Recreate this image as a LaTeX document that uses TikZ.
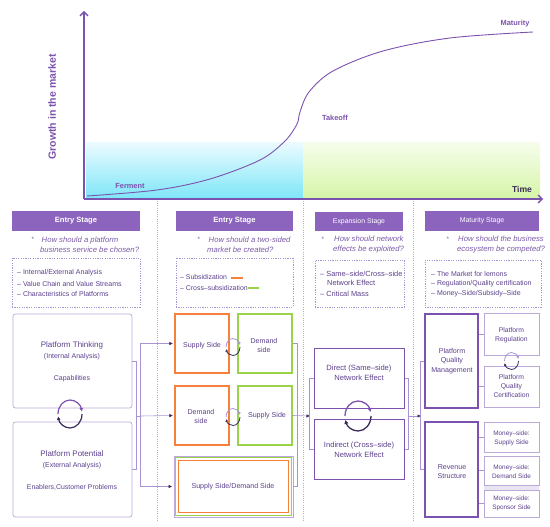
\documentclass[tikz,border=0pt]{standalone}
\usepackage{fontspec}
\setmainfont{Liberation Sans}
\usetikzlibrary{arrows.meta}
\definecolor{pur}{HTML}{7B52AE}
\definecolor{hdr}{HTML}{8C64BD}
\definecolor{txt}{HTML}{5B3F8C}
\definecolor{qtx}{HTML}{7A5AA8}
\definecolor{lpur}{HTML}{A994D3}
\definecolor{vlpur}{HTML}{BBA9DC}
\definecolor{org}{HTML}{F5813A}
\definecolor{grn}{HTML}{9BD44A}
\definecolor{dk}{HTML}{3A2A55}
\definecolor{cyanlo}{HTML}{7FE6F8}
\definecolor{cyanhi}{HTML}{EAFBFF}
\definecolor{grnlo}{HTML}{D6F5A8}
\definecolor{grnhi}{HTML}{F6FDEB}
\begin{document}
\begin{tikzpicture}[x=1pt,y=1pt,yscale=-1,
  hdrbox/.style={fill=hdr,draw=none,minimum height=20,inner sep=0,text=white,font=\bfseries\fontsize{7.6pt}{8pt}\selectfont},
  hdrsm/.style={hdrbox,font=\fontsize{6.9pt}{7pt}\selectfont},
  qtext/.style={text=qtx,font=\itshape\fontsize{7.7pt}{10pt}\selectfont,align=left,inner sep=0,anchor=west},
  qbul/.style={text=qtx,font=\fontsize{6.5pt}{7pt}\selectfont,inner sep=0},
  dbox/.style={draw=lpur,dash pattern=on 1.2pt off 1.2pt,line width=0.6pt,inner sep=0},
  ltext/.style={text=txt,font=\fontsize{7pt}{8pt}\selectfont,inner sep=0,anchor=west},
  btext/.style={text=txt,font=\fontsize{7.1pt}{8pt}\selectfont,inner sep=0},
  rbox/.style={draw=vlpur,line width=0.7pt,rounded corners=2.5pt,inner sep=0},
  obox/.style={draw=org,line width=1.2pt,inner sep=0,minimum width=54,minimum height=59},
  gbox/.style={draw=grn,line width=1.2pt,inner sep=0,minimum width=54,minimum height=59},
  pbox/.style={draw=pur,line width=1pt,inner sep=0},
  sbox/.style={draw=vlpur,line width=0.8pt,inner sep=0,minimum width=55},
  conn/.style={draw=lpur,line width=0.6pt},
  arr/.style={conn,-{Latex[length=3.5pt,width=3.5pt,color=dk]}},
  sep/.style={draw=vlpur,line width=0.8pt,dash pattern=on 0.8pt off 1.4pt},
  clab/.style={text=pur,font=\bfseries\fontsize{7.4pt}{8pt}\selectfont,inner sep=0}
]
\useasboundingbox (0,0) rectangle (550,527);
% ---------- chart ----------
\shade[top color=cyanhi,bottom color=cyanlo] (86,143) rectangle (303,198);
\shade[top color=grnhi,bottom color=grnlo] (303,143) rectangle (540,198);
\coordinate (o) at (84,199);
\coordinate (ytop) at (84,11);
\coordinate (xend) at (543,199);
\draw[pur,line width=1.3pt,-{Straight Barb[length=4pt,width=8pt]}] (o) -- (ytop);
\draw[pur,line width=1.3pt,-{Straight Barb[length=4pt,width=8pt]}] (o) -- (xend);
\draw[pur,line width=0.9pt] plot[smooth,tension=0.55] coordinates {(87,196) (157,190) (210,179) (260,160) (285,141) (297,124) (300,112) (309,92) (333,71) (383,51) (450,38) (533,32)};
\node[clab] (ferment) at (130,186) {Ferment};
\node[clab] (takeoff) at (335,118) {Takeoff};
\node[clab] (maturity) at (515,24) {Maturity};
\node[text=dk,font=\bfseries\fontsize{8.6pt}{9pt}\selectfont,inner sep=0] (time) at (522,189) {Time};
\node[text=pur,font=\bfseries\fontsize{10.5pt}{11pt}\selectfont,inner sep=0,rotate=90] (ylab) at (52,107) {Growth in the market};
% separators
\coordinate (s1t) at (157,201); \coordinate (s1b) at (157,522);
\coordinate (s2t) at (303,201); \coordinate (s2b) at (303,522);
\coordinate (s3t) at (413,201); \coordinate (s3b) at (413,522);
\draw[sep] (s1t) -- (s1b);
\draw[sep] (s2t) -- (s2b);
\draw[sep] (s3t) -- (s3b);
% ---------- headers ----------
\node[hdrbox,minimum width=128] (h1) at (76,221) {Entry Stage};
\node[hdrbox,minimum width=117] (h2) at (234.5,221) {Entry Stage};
\node[hdrsm,minimum width=88,minimum height=19] (h3) at (359,221.5) {Expansion Stage};
\node[hdrsm,minimum width=114] (h4) at (482,221) {Maturity Stage};
% ---------- questions ----------
\node[qbul] (qb1) at (33,239) {*};
\node[qtext] (q1) at (40,245) {\hspace*{1.5pt}How should a platform\\business service be chosen?};
\node[qbul] (qb2) at (199,239) {*};
\node[qtext] (q2) at (207,245) {\hspace*{1.5pt}How should a two-sided\\market be created?};
\node[qbul] (qb3) at (323,239) {*};
\node[qtext] (q3) at (333,245) {\hspace*{1pt}How should network\\effects be exploited?};
\node[qbul] (qb4) at (448,239) {*};
\node[qtext] (q4) at (457,245) {\hspace*{1pt}How should the business\\ecosystem be competed?};
% ---------- dashed boxes ----------
\node[dbox,minimum width=128,minimum height=49] (d1) at (76,282.5) {};
\node[dbox,minimum width=117,minimum height=49] (d2) at (234.5,282.5) {};
\node[dbox,minimum width=89,minimum height=47] (d3) at (359.5,283.5) {};
\node[dbox,minimum width=116,minimum height=47] (d4) at (483,283.5) {};
\node[ltext] (l11) at (17,273) {– Internal/External Analysis};
\node[ltext] (l12) at (17,283.5) {– Value Chain and Value Streams};
\node[ltext] (l13) at (17,294) {– Characteristics of Platforms};
\node[ltext,font=\fontsize{6.9pt}{8pt}\selectfont] (l21) at (180,277.5) {– Subsidization};
\node[ltext,font=\fontsize{6.9pt}{8pt}\selectfont] (l22) at (180,288) {– Cross–subsidization};
\coordinate (ob1) at (231,277.5); \coordinate (ob2) at (243,277.5);
\coordinate (gb1) at (248,288); \coordinate (gb2) at (259,288);
\draw[org,line width=2pt] (ob1) -- (ob2);
\draw[grn,line width=2pt] (gb1) -- (gb2);
\node[ltext,font=\fontsize{7.4pt}{8pt}\selectfont] (l31) at (320,274) {– Same–side/Cross–side};
\node[ltext,font=\fontsize{7.4pt}{8pt}\selectfont] (l32) at (327,282.5) {Network Effect};
\node[ltext,font=\fontsize{7.4pt}{8pt}\selectfont] (l33) at (320,293.5) {– Critical Mass};
\node[ltext] (l41) at (431,274) {– The Market for lemons};
\node[ltext] (l42) at (431,284) {– Regulation/Quality certification};
\node[ltext] (l43) at (431,294) {– Money–Side/Subsidy–Side};
% ---------- column 1 ----------
\node[rbox,minimum width=119,minimum height=94] (pt) at (72.5,361) {};
\node[rbox,minimum width=119,minimum height=95] (pp) at (72.5,469.5) {};
\node[btext,font=\fontsize{8pt}{8pt}\selectfont] (t1a) at (72,345) {Platform Thinking};
\node[btext,font=\fontsize{7pt}{8pt}\selectfont] (t1b) at (72,357) {(Internal Analysis)};
\node[btext,font=\fontsize{7pt}{8pt}\selectfont] (t1c) at (72,379) {Capabilities};
\node[btext,font=\fontsize{8pt}{8pt}\selectfont] (t2a) at (72,454) {Platform Potential};
\node[btext,font=\fontsize{7pt}{8pt}\selectfont] (t2b) at (72,466) {(External Analysis)};
\node[btext,font=\fontsize{6.9pt}{8pt}\selectfont] (t2c) at (72,487) {Enablers,Customer Problems};
% cycle col1
\draw[pur,line width=1.2pt,-{Latex[length=3.5pt,width=4pt]}] (58,414) arc[start angle=180,end angle=350,x radius=12,y radius=14];
\draw[dk,line width=1.2pt,-{Latex[length=3.5pt,width=4pt]}] (82,414) arc[start angle=0,end angle=170,x radius=12,y radius=14];
% bracket col1 -> col2
\draw[conn] (pt.east) -- ++(4,0) |- (pp.east);
\coordinate (j0) at (136,416);
\coordinate (j1) at (140,416);
\draw[conn] (j0) -- (j1);
% ---------- column 2 ----------
\node[obox] (ss1) at (202,343.5) {};
\node[gbox] (ds1) at (265,343.5) {};
\node[obox] (ds2) at (202,415.5) {};
\node[gbox] (ss2) at (265,415.5) {};
\node[draw=vlpur,line width=0.9pt,inner sep=0,minimum width=119,minimum height=61] (sd) at (233.5,486.5) {};
\node[draw=grn,line width=1.1pt,inner sep=0,minimum width=115.5,minimum height=57.5] (sdg) at (233.5,486.5) {};
\node[draw=org,line width=1.2pt,inner sep=0,minimum width=110,minimum height=52.5] (sdo) at (233.5,486.5) {};
\node[btext] (t3a) at (202,346) {Supply Side};
\node[btext,align=center,font=\fontsize{7.1pt}{9pt}\selectfont] (t3b) at (264,345.5) {Demand\\side};
\node[btext,align=center,font=\fontsize{7.1pt}{9pt}\selectfont] (t3c) at (201,416.5) {Demand\\side};
\node[btext] (t3d) at (267,416) {Supply Side};
\node[btext] (t3e) at (233,487) {Supply Side/Demand Side};
\draw[arr,shorten >=1.5pt] (j1) |- (ss1.west);
\draw[arr,shorten >=1.5pt] (j1) -- (ds2.west);
\draw[arr,shorten >=1.5pt] (j1) |- (sd.west);
% small cycles col2
\draw[lpur,line width=0.8pt,-{Latex[length=2.5pt,width=3pt]}] (226,347) arc[start angle=180,end angle=345,x radius=7,y radius=8.5];
\draw[dk,line width=0.8pt,-{Latex[length=2.5pt,width=3pt]}] (240,347) arc[start angle=0,end angle=165,x radius=7,y radius=8.5];
\draw[lpur,line width=0.8pt,-{Latex[length=2.5pt,width=3pt]}] (226,417) arc[start angle=180,end angle=345,x radius=7,y radius=8.5];
\draw[dk,line width=0.8pt,-{Latex[length=2.5pt,width=3pt]}] (240,417) arc[start angle=0,end angle=165,x radius=7,y radius=8.5];
% bracket col2 -> col3
\draw[conn] (ds1.east) -- ++(5,0) |- (sd.east);
\coordinate (c3l) at (310,416);
\draw[arr] (ss2.east) -- (c3l);
% ---------- column 3 ----------
\node[pbox,minimum width=90,minimum height=60] (de) at (359,378) {};
\node[pbox,minimum width=90,minimum height=60] (ie) at (359,449) {};
\node[btext,align=center,font=\fontsize{7.6pt}{10pt}\selectfont] (t4a) at (359,373) {Direct (Same–side)\\Network Effect};
\node[btext,align=center,font=\fontsize{7.6pt}{10pt}\selectfont] (t4b) at (359,449.5) {Indirect (Cross–side)\\Network Effect};
\draw[conn] (de.west) -- ++(-4,0) |- (ie.west);
\draw[conn] (de.east) -- ++(4,0) |- (ie.east);
\draw[pur,line width=1.3pt,-{Latex[length=4pt,width=4.5pt]}] (345,416) arc[start angle=180,end angle=345,x radius=13,y radius=15];
\draw[dk,line width=1.3pt,-{Latex[length=4pt,width=4.5pt]}] (371,416) arc[start angle=0,end angle=165,x radius=13,y radius=15];
\coordinate (c3r) at (408,416);
\coordinate (c4l) at (421,416);
\draw[arr] (c3r) -- (c4l);
% ---------- column 4 ----------
\node[pbox,line width=1.2pt,minimum width=53,minimum height=94] (pqm) at (451.5,361) {};
\node[pbox,line width=1.2pt,minimum width=53,minimum height=95] (rs) at (451.5,469.5) {};
\node[btext,align=center,font=\fontsize{7.1pt}{9.2pt}\selectfont] (t5a) at (452,361) {Platform\\Quality\\Management};
\node[btext,align=center,font=\fontsize{7.1pt}{9.2pt}\selectfont] (t5b) at (452,471.5) {Revenue\\Structure};
\draw[conn] (pqm.west) -- ++(-4,0) |- (rs.west);
\fill[black!12!vlpur!25] (484,485) rectangle (539,490);
\node[sbox,minimum height=42] (pr) at (511.5,334) {};
\node[sbox,minimum height=41] (pqc) at (511.5,386.5) {};
\node[sbox,minimum height=30] (ms) at (511.5,437) {};
\node[sbox,minimum height=29] (md) at (511.5,470.5) {};
\node[sbox,minimum height=27] (msp) at (511.5,503.5) {};
\node[btext,align=center,font=\fontsize{6.8pt}{9pt}\selectfont] (t6a) at (511.5,335) {Platform\\Regulation};
\node[btext,align=center,font=\fontsize{6.8pt}{9pt}\selectfont] (t6b) at (511.5,386.5) {Platform\\Quality\\Certification};
\node[btext,align=center,font=\fontsize{6.4pt}{9pt}\selectfont] (t6c) at (511.5,438) {Money–side:\\Supply Side};
\node[btext,align=center,font=\fontsize{6.4pt}{9pt}\selectfont] (t6d) at (511.5,471.5) {Money–side:\\Demand Side};
\node[btext,align=center,font=\fontsize{6.4pt}{9pt}\selectfont] (t6e) at (511.5,503) {Money–side:\\Sponsor Side};
\draw[conn] (pqm.east |- pr.west) -- (pr.west);
\draw[conn] (pqm.east |- pqc.west) -- (pqc.west);
\draw[conn] (rs.east |- ms.west) -- (ms.west);
\draw[conn] (rs.east |- md.west) -- (md.west);
\draw[conn] (rs.east |- msp.west) -- (msp.west);
\draw[lpur,line width=0.8pt,-{Latex[length=2.5pt,width=3pt]}] (504.5,361) arc[start angle=180,end angle=345,x radius=7,y radius=8.5];
\draw[dk,line width=0.8pt,-{Latex[length=2.5pt,width=3pt]}] (518.5,361) arc[start angle=0,end angle=165,x radius=7,y radius=8.5];
\end{tikzpicture}
\end{document}
